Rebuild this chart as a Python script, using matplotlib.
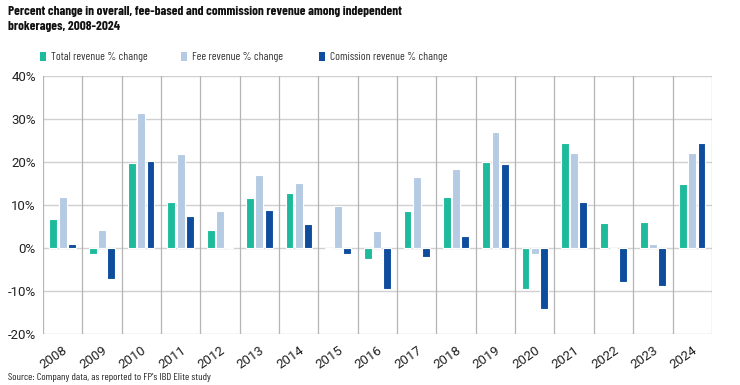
import matplotlib
matplotlib.use("Agg")
import matplotlib.pyplot as plt
import numpy as np
from matplotlib.patches import Rectangle

years = [str(y) for y in range(2008, 2025)]
total = [6.7, -1.3, 19.8, 10.8, 4.3, 11.7, 12.8, -0.3, -2.5, 8.7, 11.9, 20.1, -9.6, 24.4, 5.8, 6.1, 14.9]
fee = [11.8, 4.3, 31.5, 21.8, 8.6, 16.9, 15.1, 9.8, 3.9, 16.6, 18.4, 26.9, -1.3, 22.2, -0.3, 1.0, 22.2]
comm = [1.0, -7.3, 20.3, 7.4, 0.3, 8.8, 5.6, -1.5, -9.6, -2.1, 2.7, 19.6, -14.2, 10.8, -7.8, -8.9, 24.4]
series_names = ["Total revenue % change", "Fee revenue % change", "Comission revenue % change"]
colors = ["#1dbb9b", "#b4cbe3", "#0e4c9d"]
yticks = [-20, -10, 0, 10, 20, 30, 40]

cond = ["Barlow Condensed", "DejaVu Sans"]
tickfam = ["Roboto", "DejaVu Sans"]
plt.rcParams["font.family"] = tickfam

fig = plt.figure(figsize=(7.4, 3.85), dpi=100)
ax = fig.add_axes([0.058, 0.1325, 0.904, 0.67])

x = np.arange(len(years))
w = 0.2
offs = [-0.235, 0.0, 0.235]
for vals, c, o, n in zip([total, fee, comm], colors, offs, series_names):
    ax.bar(x + o, vals, width=w, color=c, edgecolor="white", linewidth=0.8, label=n, zorder=3)

ax.set_xlim(-0.5, len(years) - 0.5)
ax.set_ylim(-20, 40)
ax.set_yticks(yticks)
ax.set_yticklabels([f"{v}%" for v in yticks], fontsize=9.5, color="#222222")
ax.set_xticks(x)
ax.set_xticklabels(years, rotation=35, ha="right", rotation_mode="anchor", fontsize=9.5, color="#222222")
ax.tick_params(axis="both", length=0)
ax.tick_params(axis="y", pad=5)
ax.tick_params(axis="x", pad=7)
for v in yticks:
    ax.axhline(v, color="#d0d0d0", linewidth=1.0, zorder=1)
for b in np.arange(-0.5, len(years), 1.0):
    ax.axvline(b, color="#b4b4b4", linewidth=0.9, zorder=1)
for s in ax.spines.values():
    s.set_visible(False)

fig.text(0.011, 1 - 6 / 385, "Percent change in overall, fee-based and commission revenue among independent\nbrokerages, 2008-2024",
         fontsize=9.5, fontweight="bold", family=cond, va="top", ha="left", color="#111111", linespacing=1.5)

# legend
lx = [40, 181, 319]
for px, c, n in zip(lx, colors, series_names):
    fig.patches.append(Rectangle((px / 740, 1 - 61 / 385), 6 / 740, 9 / 385, transform=fig.transFigure,
                                 facecolor=c, edgecolor="none"))
    fig.text((px + 11) / 740, 1 - 56.5 / 385, n, fontsize=8.3, family=cond, va="center", ha="left", color="#333333")

fig.text(0.011, 1 - 377 / 385, "Source: Company data, as reported to FP's IBD Elite study", fontsize=7.5,
         family=cond, va="center", ha="left", color="#222222")

fig.savefig("out.png", dpi=100)
